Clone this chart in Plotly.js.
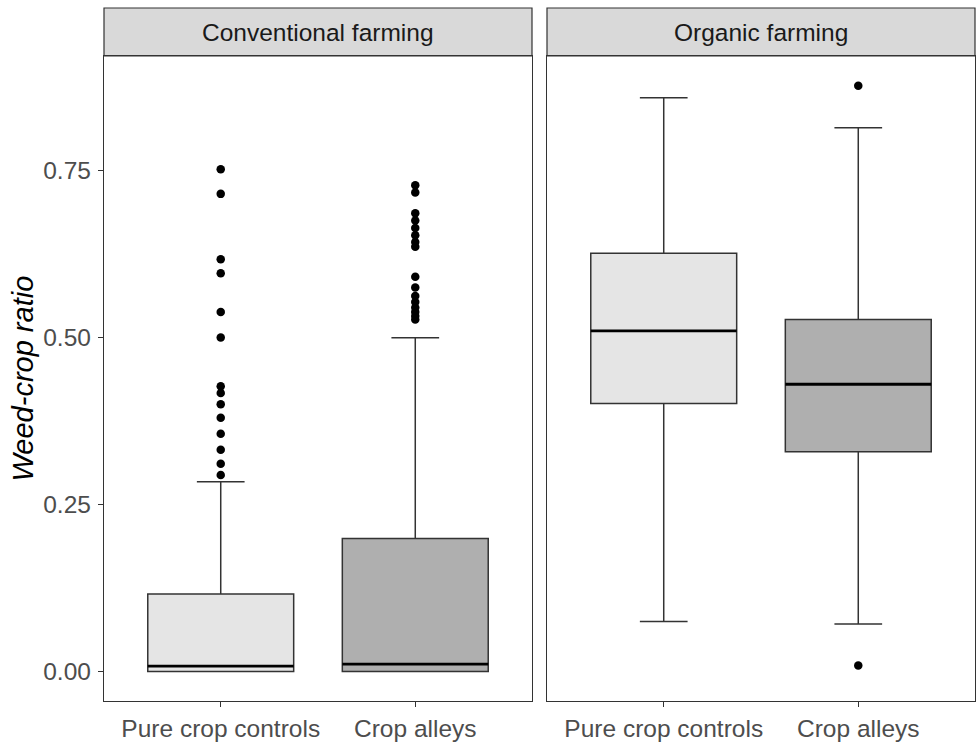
<!DOCTYPE html>
<html>
<head>
<meta charset="utf-8">
<script src="https://cdn.plot.ly/plotly-3.0.1.min.js"></script>
<style>html,body{margin:0;padding:0;background:#fff;}</style>
</head>
<body>
<div id="chart" style="width:976px;height:745px;"></div>
<script>
// ---- data ----
const categories = ["Pure crop controls", "Crop alleys"];
const catPositions = [1, 2];
const facets = ["Conventional farming", "Organic farming"];
const yTickVals = [0, 0.25, 0.5, 0.75];
const yTickText = ["0.00", "0.25", "0.50", "0.75"];

const convQ1 = [0, 0];
const convMedian = [0.008, 0.011];
const convQ3 = [0.116, 0.199];
const convLower = [0, 0];
const convUpper = [0.284, 0.4997];

const orgQ1 = [0.401, 0.329];
const orgMedian = [0.510, 0.430];
const orgQ3 = [0.626, 0.527];
const orgLower = [0.075, 0.071];
const orgUpper = [0.859, 0.814];

const convPureOutliers = [0.752, 0.715, 0.617, 0.596, 0.538, 0.500, 0.427, 0.417, 0.400, 0.380, 0.356, 0.332, 0.311, 0.294];
const convAlleyOutliers = [0.728, 0.717, 0.686, 0.675, 0.664, 0.653, 0.643, 0.636, 0.591, 0.575, 0.562, 0.553, 0.545, 0.538, 0.532, 0.527];
const orgPureOutliers = [];
const orgAlleyOutliers = [0.877, 0.009];

// ---- styling ----
const fills = ["#e5e5e5", "#afafaf"];
const boxWidth = 0.75;
const lineCol = "#333333";
const FONT = "Liberation Sans, Arial, sans-serif";

const traces = [];
function addPanel(q1, med, q3, lo, hi, outs, xa, ya) {
  for (let i = 0; i < categories.length; i++) {
    traces.push({
      type: "box", x: [catPositions[i]], q1: [q1[i]], median: [med[i]], q3: [q3[i]],
      lowerfence: [lo[i]], upperfence: [hi[i]], boxpoints: false,
      width: boxWidth, whiskerwidth: 0.327, fillcolor: fills[i],
      line: {color: lineCol, width: 1.5}, xaxis: xa, yaxis: ya,
      showlegend: false, hoverinfo: "skip"
    });
    traces.push({
      type: "scatter", mode: "lines",
      x: [catPositions[i] - boxWidth / 2, catPositions[i] + boxWidth / 2],
      y: [med[i], med[i]], line: {color: "#000000", width: 2.8},
      xaxis: xa, yaxis: ya, showlegend: false, hoverinfo: "skip"
    });
    traces.push({
      type: "scatter", mode: "markers",
      x: outs[i].map(() => catPositions[i]), y: outs[i],
      marker: {color: "#000000", size: 8.5},
      xaxis: xa, yaxis: ya, showlegend: false, hoverinfo: "skip"
    });
  }
}
addPanel(convQ1, convMedian, convQ3, convLower, convUpper, [convPureOutliers, convAlleyOutliers], "x", "y");
addPanel(orgQ1, orgMedian, orgQ3, orgLower, orgUpper, [orgPureOutliers, orgAlleyOutliers], "x2", "y2");

const plotH = 745 - 56 - 44;
const stripTop = 1 + 48 / plotH;
const stripMid = 1 + 24 / plotH;

const xBase = {
  range: [0.4, 2.6], tickvals: catPositions, ticktext: categories,
  showgrid: false, zeroline: false, showline: true, mirror: true,
  linecolor: lineCol, linewidth: 1.2, ticks: "outside", ticklen: 5,
  tickcolor: lineCol, tickwidth: 1.2,
  tickfont: {family: FONT, size: 24.5, color: "#4d4d4d"}, fixedrange: true
};
const yBase = {
  range: [-0.0442, 0.9214], showgrid: false, zeroline: false,
  showline: true, mirror: true, linecolor: lineCol, linewidth: 1.2, fixedrange: true
};

const layout = {
  width: 976, height: 745,
  margin: {l: 104, r: 1, t: 56, b: 44},
  paper_bgcolor: "#ffffff", plot_bgcolor: "#ffffff",
  boxmode: "overlay", showlegend: false,
  font: {family: FONT},
  xaxis: Object.assign({}, xBase, {domain: [0, 428 / 871], anchor: "y"}),
  xaxis2: Object.assign({}, xBase, {domain: [443 / 871, 1], anchor: "y2"}),
  yaxis: Object.assign({}, yBase, {
    anchor: "x", tickvals: yTickVals, ticktext: yTickText,
    ticks: "outside", ticklen: 5, tickcolor: lineCol, tickwidth: 1.2,
    ticklabelstandoff: 2,
    tickfont: {family: FONT, size: 24.5, color: "#4d4d4d"}
  }),
  yaxis2: Object.assign({}, yBase, {anchor: "x2", matches: "y", showticklabels: false, ticks: ""}),
  shapes: [
    {type: "rect", xref: "x domain", yref: "paper", x0: 0, x1: 1, y0: 1, y1: stripTop,
     fillcolor: "#d9d9d9", line: {color: lineCol, width: 1.2}, layer: "below"},
    {type: "rect", xref: "x2 domain", yref: "paper", x0: 0, x1: 1, y0: 1, y1: stripTop,
     fillcolor: "#d9d9d9", line: {color: lineCol, width: 1.2}, layer: "below"}
  ],
  annotations: [
    {xref: "x domain", yref: "paper", x: 0.5, y: stripMid, text: facets[0], showarrow: false,
     xanchor: "center", yanchor: "middle", font: {family: FONT, size: 24.5, color: "#1a1a1a"}},
    {xref: "x2 domain", yref: "paper", x: 0.5, y: stripMid, text: facets[1], showarrow: false,
     xanchor: "center", yanchor: "middle", font: {family: FONT, size: 24.5, color: "#1a1a1a"}},
    {xref: "paper", yref: "paper", x: (22 - 104) / 871, y: 0.5, text: "Weed-crop ratio",
     textangle: -90, showarrow: false, xanchor: "center", yanchor: "middle",
     font: {family: FONT, size: 29, color: "#000000", style: "italic"}}
  ]
};

Plotly.newPlot("chart", traces, layout, {displayModeBar: false, staticPlot: true});
</script>
</body>
</html>
